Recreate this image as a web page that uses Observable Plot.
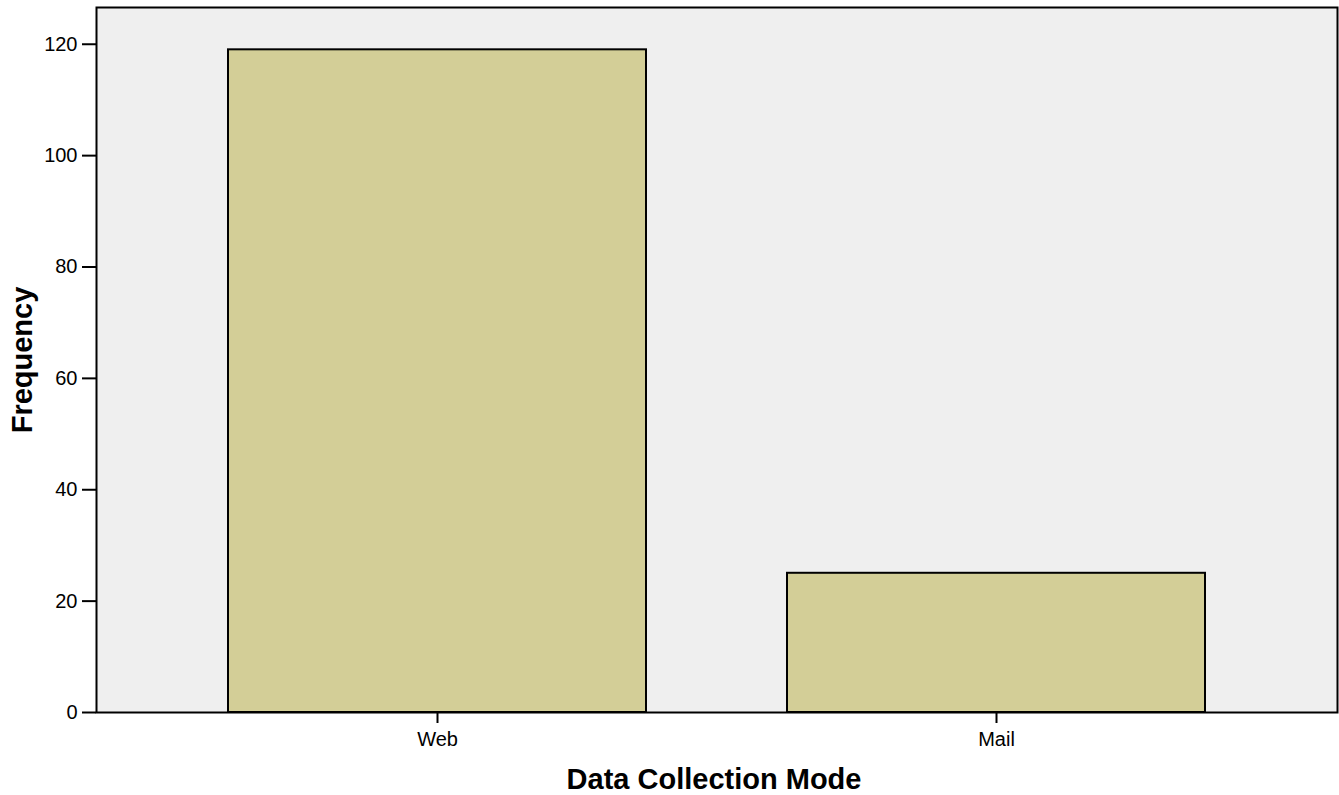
<!DOCTYPE html>
<html><head><meta charset="utf-8">
<script src="https://cdn.jsdelivr.net/npm/d3@7"></script>
<script src="https://cdn.jsdelivr.net/npm/@observablehq/plot@0.6"></script>
<style>body{margin:0;background:#fff;}</style>
</head><body><div id="chart"></div>
<script>
const modes = ["Web", "Mail"];
const frequencies = [119, 25];
const yTicks = [0, 20, 40, 60, 80, 100, 120];
const xTitle = "Data Collection Mode";
const yTitle = "Frequency";

const data = modes.map((m, i) => ({mode: m, freq: frequencies[i]}));

const chart = Plot.plot({
  width: 1339, height: 795,
  marginLeft: 96, marginRight: 2, marginTop: 7, marginBottom: 83,
  style: {fontFamily: "'Liberation Sans', Arial, sans-serif", fontSize: "20px", color: "#000", background: "#fff"},
  x: {domain: modes, paddingInner: 0.252, paddingOuter: 0.236, label: null},
  y: {domain: [0, 126.6], label: null},
  marks: [
    Plot.frame({fill: "#efefef"}),
    Plot.barY(data, {x: "mode", y: "freq", fill: "#d3ce97", stroke: "#000", strokeWidth: 2}),
    Plot.frame({stroke: "#000", strokeWidth: 2}),
    Plot.axisY({ticks: yTicks, tickSize: 14, tickPadding: 5, strokeWidth: 2, fontSize: 20, label: null, tickFormat: d => d}),
    Plot.axisX({tickSize: 11, tickPadding: 8, strokeWidth: 2, fontSize: 20, label: null}),
    Plot.text([xTitle], {frameAnchor: "bottom", text: d => d, dx: -3, dy: 67, fontSize: 29, fontWeight: "bold", lineAnchor: "middle", textAnchor: "middle"}),
    Plot.text([yTitle], {frameAnchor: "left", text: d => d, dx: -74, rotate: -90, fontSize: 29, fontWeight: "bold", lineAnchor: "middle", textAnchor: "middle"})
  ]
});
document.getElementById("chart").appendChild(chart);
</script>
</body></html>
